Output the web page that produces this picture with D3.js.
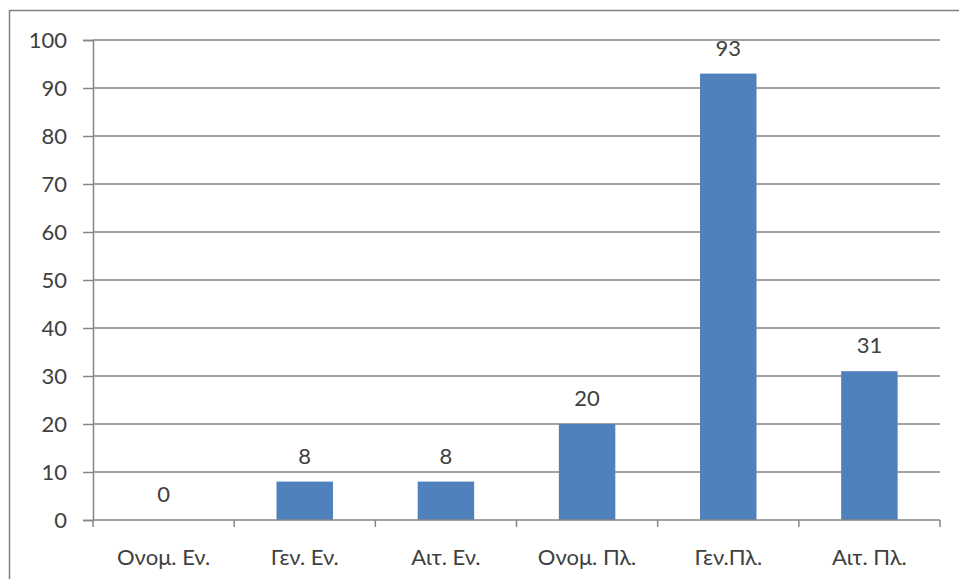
<!DOCTYPE html>
<html>
<head>
<meta charset="utf-8">
<script src="https://cdn.jsdelivr.net/npm/d3@7"></script>
<style>
html,body{margin:0;padding:0;background:#fff;overflow:hidden;}
svg{display:block;}
</style>
</head>
<body>
<svg id="chart" width="959" height="579"></svg>
<script>
const categories = ["Ονομ. Εν.", "Γεν. Εν.", "Αιτ. Εν.", "Ονομ. Πλ.", "Γεν.Πλ.", "Αιτ. Πλ."];
const values = [0, 8, 8, 20, 93, 31];
const yTicks = [0, 10, 20, 30, 40, 50, 60, 70, 80, 90, 100];

(function () {
const svg = d3.select("#chart");
const mLeft = 93, mRight = 940, mTop = 40, mBottom = 520;
const font = "Lato, 'Open Sans', sans-serif";
const fontSize = "22px";
const textColor = "#404040";
const lineColor = "#868686";

// outer border (only top and left visible in frame)
svg.append("rect")
  .attr("x", 9.5).attr("y", 10.5)
  .attr("width", 1000).attr("height", 1000)
  .attr("fill", "none").attr("stroke", "#7f7f7f").attr("stroke-width", 1.5);

const x = d3.scaleBand().domain(categories).range([mLeft, mRight]).paddingInner(0.6).paddingOuter(0.3);
const y = d3.scaleLinear().domain([0, 100]).range([mBottom, mTop]);

// gridlines
svg.append("g").selectAll("line").data(yTicks.filter(d => d > 0)).join("line")
  .attr("x1", mLeft).attr("x2", mRight)
  .attr("y1", d => y(d)).attr("y2", d => y(d))
  .attr("stroke", lineColor).attr("stroke-width", 1.5);

// y axis
const yAxis = svg.append("g").attr("transform", `translate(${mLeft},0)`)
  .call(d3.axisLeft(y).tickValues(yTicks).tickSize(10).tickPadding(16));
yAxis.select(".domain").attr("stroke", lineColor).attr("stroke-width", 1.5);
yAxis.selectAll(".tick line").attr("stroke", lineColor).attr("stroke-width", 1.5);
yAxis.selectAll(".tick text").attr("fill", textColor).style("font-family", font).style("font-size", fontSize);

// bars
svg.append("g").selectAll("rect").data(values).join("rect")
  .attr("x", (d, i) => x(categories[i]))
  .attr("width", x.bandwidth())
  .attr("y", d => y(d))
  .attr("height", d => y(0) - y(d))
  .attr("fill", "#4f81bd");

// x axis
const xAxis = svg.append("g").attr("transform", `translate(0,${mBottom})`);
xAxis.append("line").attr("x1", mLeft).attr("x2", mRight).attr("y1", 0).attr("y2", 0)
  .attr("stroke", lineColor).attr("stroke-width", 1.5);
const gap = (x.step() - x.bandwidth()) / 2;
const boundaries = categories.map(c => x(c) - gap).concat([mRight]);
xAxis.selectAll("line.tk").data(boundaries).join("line").attr("class", "tk")
  .attr("x1", d => d).attr("x2", d => d).attr("y1", 0).attr("y2", 7)
  .attr("stroke", lineColor).attr("stroke-width", 1.5);
xAxis.selectAll("text").data(categories).join("text")
  .attr("x", d => x(d) + x.bandwidth() / 2)
  .attr("y", 45)
  .attr("text-anchor", "middle")
  .attr("fill", textColor).style("font-family", font).style("font-size", fontSize)
  .text(d => d);

// value labels
svg.append("g").selectAll("text").data(values).join("text")
  .attr("x", (d, i) => x(categories[i]) + x.bandwidth() / 2)
  .attr("y", d => y(d) - 18)
  .attr("text-anchor", "middle")
  .attr("fill", textColor).style("font-family", font).style("font-size", fontSize)
  .text(d => d);
})();
</script>
</body>
</html>
